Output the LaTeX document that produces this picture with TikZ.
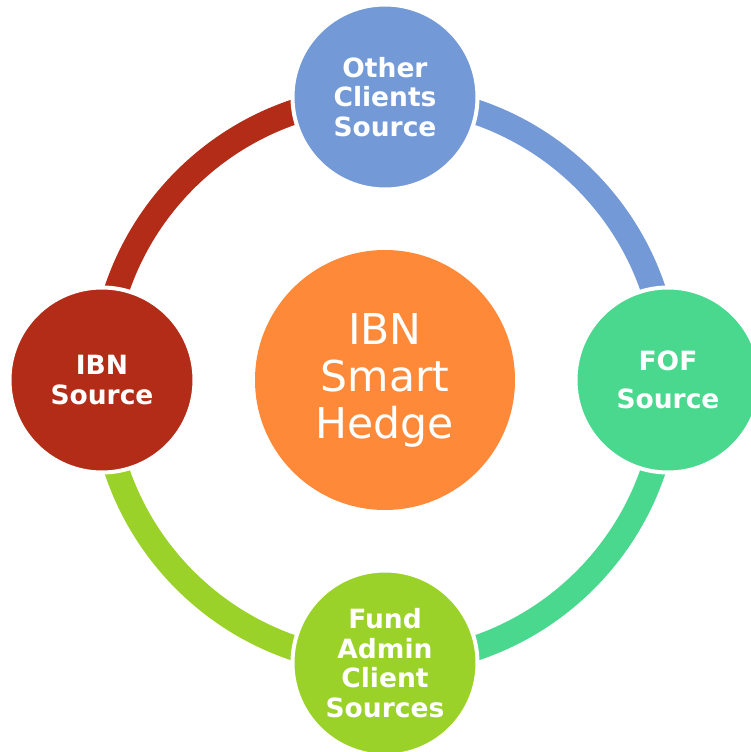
\documentclass[tikz,border=0pt]{standalone}
\usepackage{fontspec}
\usepackage{tikz}
\usetikzlibrary{positioning,backgrounds}
\newfontfamily\diagfont{DejaVu Sans}
\definecolor{hubC}{HTML}{FE8A39}
\definecolor{blueC}{HTML}{7399D6}
\definecolor{greenC}{HTML}{4AD88F}
\definecolor{limeC}{HTML}{9BD22A}
\definecolor{redC}{HTML}{B22C17}

\begin{document}
\begin{tikzpicture}[x=1pt, y=1pt,
	hub/.style = {circle, fill=hubC, minimum size=260pt, inner sep=0pt, text=white, align=center, font=\diagfont\fontsize{42.5}{47}\selectfont},
	src/.style = {circle, draw=white, line width=4pt, minimum size=185pt, inner sep=0pt, text=white, align=center, font=\diagfont\bfseries\fontsize{26.5}{29.5}\selectfont},
	ring/.style = {line width=25pt}]
		\useasboundingbox (-385,-372) rectangle (365,380);
		\node[hub] (hedge) at (0,0) {IBN\\Smart\\Hedge};
		\node[src, fill=blueC] (other) at (0,283) {Other\\Clients\\Source};
		\node[src, fill=greenC] (fof) at (283,0) {FOF\\[9pt]Source};
		\node[src, fill=limeC] (fund) at (0,-283) {Fund\\Admin\\Client\\Sources};
		\node[src, fill=redC] (ibn) at (-283,0) {IBN\\Source};
		\begin{scope}[on background layer]
			\draw[ring, blueC] (other.center) arc[start angle=90, end angle=0, radius=283];
			\draw[ring, greenC] (fof.center) arc[start angle=0, end angle=-90, radius=283];
			\draw[ring, limeC] (fund.center) arc[start angle=-90, end angle=-180, radius=283];
			\draw[ring, redC] (ibn.center) arc[start angle=180, end angle=90, radius=283];
		\end{scope}
	\end{tikzpicture}
\end{document}
